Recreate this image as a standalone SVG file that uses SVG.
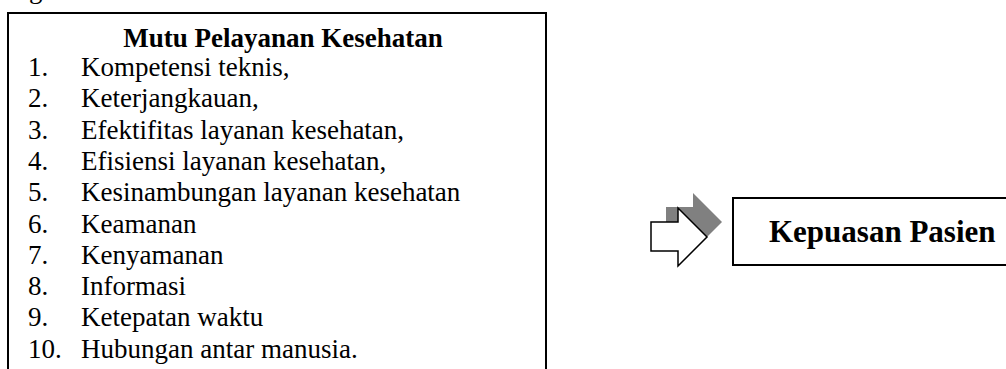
<svg xmlns="http://www.w3.org/2000/svg" width="1006" height="369" viewBox="0 0 1006 369">
<style>
  .box { fill: #ffffff; stroke: #000000; stroke-width: 2; }
  .t { font-family: "Liberation Serif", "Times New Roman", serif; fill: #000000; }
  .item { font-size: 27px; }
  .title { font-size: 27px; font-weight: bold; }
  .big { font-size: 31px; font-weight: bold; }
</style>
<rect x="0" y="0" width="1006" height="369" fill="#ffffff"/>
<text class="t item" x="29" y="-2">g</text>
<g id="mutu">
  <rect class="box" x="8" y="13" width="538" height="380"/>
  <text class="t title" x="283" y="47" text-anchor="middle">Mutu Pelayanan Kesehatan</text>
  <g class="t item">
    <text x="28" y="76">1.</text><text x="81" y="76">Kompetensi teknis,</text>
    <text x="28" y="107.3">2.</text><text x="81" y="107.3">Keterjangkauan,</text>
    <text x="28" y="138.6">3.</text><text x="81" y="138.6">Efektifitas layanan kesehatan,</text>
    <text x="28" y="169.9">4.</text><text x="81" y="169.9">Efisiensi layanan kesehatan,</text>
    <text x="28" y="201.2">5.</text><text x="81" y="201.2">Kesinambungan layanan kesehatan</text>
    <text x="28" y="232.5">6.</text><text x="81" y="232.5">Keamanan</text>
    <text x="28" y="263.8">7.</text><text x="81" y="263.8">Kenyamanan</text>
    <text x="28" y="295.1">8.</text><text x="81" y="295.1">Informasi</text>
    <text x="28" y="326.4">9.</text><text x="81" y="326.4">Ketepatan waktu</text>
    <text x="28" y="357.7">10.</text><text x="81" y="357.7">Hubungan antar manusia.</text>
  </g>
</g>
<g id="connectors">
  <polygon points="666,207 693,207 693,193 722,222 693,251 693,236 666,236" fill="#808080"/>
  <polygon points="651,222 678,222 678,208 707,237 678,266 678,251 651,251" fill="#ffffff" stroke="#000000" stroke-width="1.5" stroke-linejoin="miter"/>
</g>
<g id="kepuasan">
  <rect class="box" x="733" y="198" width="290" height="67"/>
  <text class="t big" x="769" y="242">Kepuasan Pasien</text>
</g>
</svg>
